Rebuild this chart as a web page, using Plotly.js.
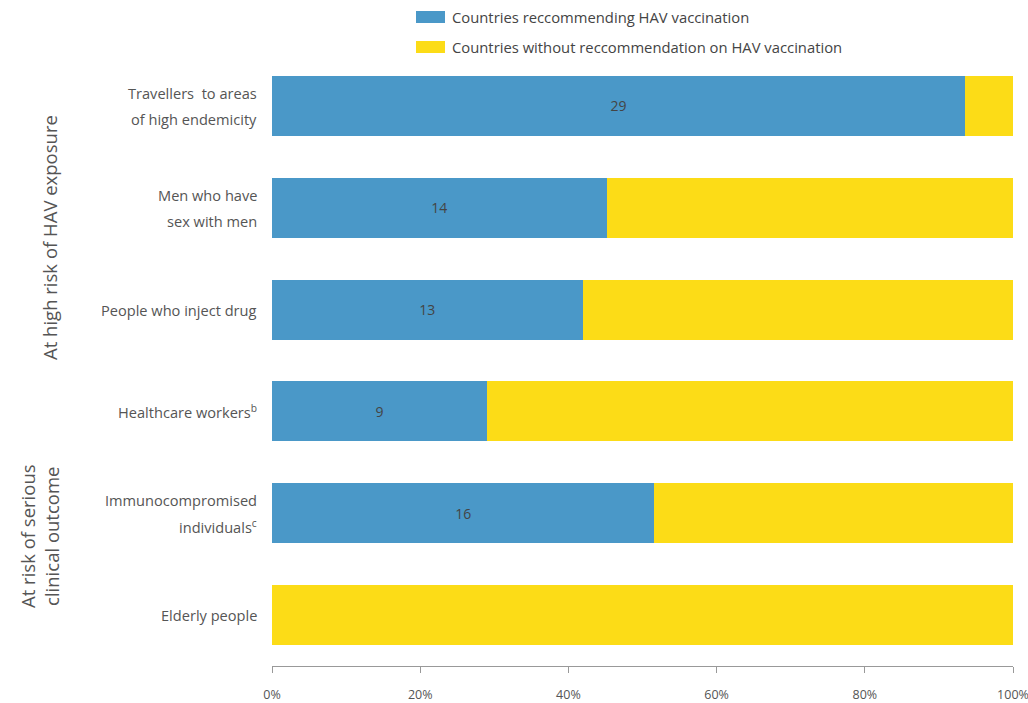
<!DOCTYPE html>
<html>
<head>
<meta charset="utf-8">
<script src="https://cdn.plot.ly/plotly-3.0.1.min.js"></script>
<style>html,body{margin:0;padding:0;background:#fff;}#chart{width:1028px;height:703px;}</style>
</head>
<body>
<div id="chart"></div>
<script>
// ---- data ----
const categories = [
  "Travellers  to areas<br>of high endemicity",
  "Men who have<br>sex with men",
  "People who inject drug",
  "Healthcare workers<sup>b</sup>",
  "Immunocompromised<br>individuals<sup>c</sup>",
  "Elderly people"
];
const recommending = [29, 14, 13, 9, 16, 0];
const withoutRecommendation = [2, 17, 18, 22, 15, 31];
const seriesNames = ["Countries reccommending HAV vaccination", "Countries without reccommendation on HAV vaccination"];
const xTickVals = [0, 20, 40, 60, 80, 100];
const xTickText = ["0%", "20%", "40%", "60%", "80%", "100%"];
const groupLabels = ["At high risk of HAV exposure", "At risk of serious<br>clinical outcome"];

const BLUE = "#4a98c8", YELLOW = "#fcdc17";
const FONT = "'Open Sans', Lato, sans-serif";
const totals = recommending.map((v, i) => v + withoutRecommendation[i]);
const ids = categories.map((c, i) => "c" + i);

const traces = [
  {
    type: "bar", orientation: "h", y: ids, x: recommending.map((v, i) => v / totals[i] * 100),
    name: seriesNames[0], marker: {color: BLUE},
    text: recommending.map(v => v > 0 ? String(v) : ""), textposition: "inside",
    insidetextanchor: "middle", textfont: {family: FONT, size: 14, color: "#444"},
    hoverinfo: "none", width: 0.59
  },
  {
    type: "bar", orientation: "h", y: ids, x: withoutRecommendation.map((v, i) => v / totals[i] * 100),
    name: seriesNames[1], marker: {color: YELLOW}, hoverinfo: "none", width: 0.59,
    textposition: "none"
  }
];

const annotations = [];
categories.forEach((c, i) => {
  const lines = c.split("<br>");
  lines.forEach((ln, j) => {
    const off = (j - (lines.length - 1) / 2) * 26;
    annotations.push({
      xref: "paper", yref: "y", x: 0, y: ids[i], xanchor: "right", yanchor: "middle",
      xshift: -13, yshift: -off, text: ln, showarrow: false,
      font: {family: FONT, size: 14.6, color: "#555"}
    });
  });
});
annotations.push({
  xref: "paper", yref: "paper", x: 0, y: (666 - 238) / 611, xshift: -222, textangle: -90,
  xanchor: "center", yanchor: "middle", text: groupLabels[0], showarrow: false,
  font: {family: FONT, size: 18.5, color: "#555"}
});
annotations.push({
  xref: "paper", yref: "paper", x: 0, y: (666 - 536) / 611, xshift: -233, textangle: -90,
  xanchor: "center", yanchor: "middle", text: groupLabels[1], showarrow: false,
  font: {family: FONT, size: 18.5, color: "#555"}
});
// legend (drawn manually)
const legY = [17, 47];
const shapes = [];
[BLUE, YELLOW].forEach((col, k) => {
  const yc = (666 - legY[k]) / 611;
  shapes.push({type: "rect", xref: "paper", yref: "paper",
    x0: (416 - 272) / 741, x1: (445 - 272) / 741,
    y0: yc - 6 / 611, y1: yc + 6 / 611, fillcolor: col, line: {width: 0}});
  annotations.push({xref: "paper", yref: "paper", x: (450 - 272) / 741, y: yc,
    xanchor: "left", yanchor: "middle", text: seriesNames[k], showarrow: false,
    font: {family: FONT, size: 14.8, color: "#444"}});
});

const layout = {
  width: 1028, height: 703,
  margin: {l: 272, r: 15, t: 55, b: 37},
  paper_bgcolor: "#fff", plot_bgcolor: "#fff",
  barmode: "stack", showlegend: false,
  font: {family: FONT, color: "#555"},
  xaxis: {
    range: [0, 100], tickvals: xTickVals, ticktext: xTickText,
    showgrid: false, zeroline: false, showline: true, linecolor: "#999", linewidth: 1,
    ticks: "outside", ticklen: 6, tickcolor: "#999", ticklabelstandoff: 11,
    ticklabeloverflow: "allow",
    tickfont: {family: FONT, size: 12.5, color: "#555"}, fixedrange: true
  },
  yaxis: {
    type: "category", autorange: "reversed", showticklabels: false, showgrid: false,
    zeroline: false, showline: false, ticks: "", fixedrange: true
  },
  annotations: annotations, shapes: shapes
};

Plotly.newPlot("chart", traces, layout, {displayModeBar: false, staticPlot: true});
</script>
</body>
</html>
